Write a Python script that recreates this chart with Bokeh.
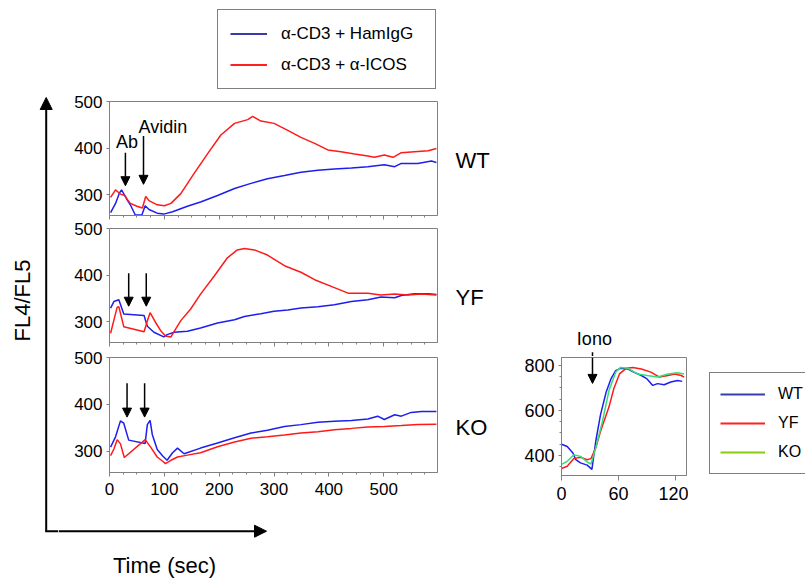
import numpy as np
from bokeh.plotting import figure
from bokeh.models import (Range1d, FixedTicker, Arrow, NormalHead, Label, Legend,
                          LegendItem, Spacer)
from bokeh.layouts import column, row
from bokeh.embed import file_html
from bokeh.resources import INLINE
from bokeh.core.properties import value

# ---------------- data ----------------
wt_red_t = [2, 11, 16, 20, 28, 32, 38, 50, 60, 66, 72, 87, 100, 112, 130, 154, 179, 203, 228, 252, 261, 276, 300, 325, 349, 374, 398, 422, 447, 471, 483, 501, 517, 532, 556, 581, 596]
wt_red_v = [294, 310, 305, 301, 298, 290, 281, 275, 271, 296, 287, 278, 276, 281, 302, 345, 388, 428, 453, 461, 468, 458, 453, 438, 423, 410, 396, 392, 387, 383, 380, 385, 380, 390, 392, 394, 399]
wt_blue_t = [2, 11, 18, 22, 31, 38, 47, 59, 65, 72, 87, 99, 115, 142, 166, 197, 228, 258, 288, 319, 349, 380, 410, 441, 471, 501, 520, 532, 562, 587, 596]
wt_blue_v = [261, 281, 303, 310, 291, 278, 256, 256, 276, 268, 260, 258, 263, 275, 284, 298, 313, 324, 334, 341, 348, 352, 355, 357, 360, 364, 360, 367, 367, 372, 369]

yf_red_t = [2, 8, 14, 17, 26, 63, 70, 74, 84, 93, 102, 112, 121, 130, 148, 166, 191, 215, 233, 246, 264, 288, 319, 349, 374, 410, 435, 471, 495, 520, 544, 569, 596]
yf_red_v = [275, 303, 331, 332, 289, 278, 305, 319, 298, 281, 269, 267, 285, 302, 327, 359, 398, 437, 454, 457, 454, 443, 420, 406, 390, 373, 361, 361, 357, 359, 357, 359, 357]
yf_blue_t = [2, 8, 17, 26, 63, 69, 81, 99, 105, 118, 142, 166, 197, 228, 246, 276, 300, 325, 349, 380, 410, 441, 471, 495, 520, 532, 556, 581, 596]
yf_blue_v = [329, 343, 347, 316, 313, 290, 277, 267, 272, 277, 279, 286, 297, 304, 311, 317, 322, 325, 329, 332, 336, 343, 347, 353, 351, 356, 360, 360, 358]

ko_blue_t = [2, 11, 20, 26, 35, 65, 69, 74, 78, 87, 97, 105, 115, 124, 136, 166, 197, 228, 258, 288, 319, 349, 380, 410, 441, 471, 489, 501, 520, 532, 550, 569, 596]
ko_blue_v = [309, 331, 365, 360, 324, 317, 357, 366, 336, 304, 290, 281, 297, 307, 295, 307, 318, 329, 339, 345, 353, 357, 362, 364, 366, 369, 375, 368, 378, 375, 383, 385, 385]
ko_red_t = [2, 8, 14, 20, 27, 65, 75, 87, 97, 102, 112, 124, 142, 166, 197, 228, 258, 288, 319, 349, 380, 410, 441, 471, 501, 532, 562, 596]
ko_red_v = [291, 305, 325, 316, 287, 325, 309, 288, 279, 274, 281, 288, 292, 297, 310, 320, 328, 331, 335, 339, 342, 346, 349, 352, 353, 355, 357, 358]

iono_wt_t = [0, 6, 12, 15, 20, 27, 32, 36, 41, 47, 52, 57, 62, 70, 76, 84, 90, 96, 101, 108, 115, 122, 127]
iono_wt_v = [450, 440, 411, 381, 367, 357, 338, 462, 580, 682, 740, 777, 787, 784, 770, 755, 740, 711, 719, 714, 726, 733, 729]
iono_yf_t = [0, 6, 13, 20, 27, 31, 36, 41, 50, 55, 61, 68, 75, 84, 94, 103, 112, 119, 126, 129]
iono_yf_v = [342, 352, 386, 392, 381, 386, 433, 506, 616, 696, 762, 787, 791, 784, 770, 748, 755, 762, 755, 748]
iono_ko_t = [0, 6, 13, 20, 27, 31, 36, 43, 50, 57, 62, 70, 80, 90, 101, 112, 122, 129]
iono_ko_v = [360, 374, 403, 396, 371, 362, 433, 550, 689, 770, 791, 787, 762, 755, 748, 762, 767, 762]

time_ticks = [0, 100, 200, 300, 400, 500]
time_minor = list(range(0, 600, 25))
fl_ticks = [300, 400, 500]
iono_xticks = [0, 60, 120]
iono_yticks = [400, 600, 800]

panel_names = ["WT", "YF", "KO"]
series_names = ["α-CD3 + HamIgG", "α-CD3 + α-ICOS"]
iono_names = ["WT", "YF", "KO"]

# stimulus arrows: time, start value, end value
wt_arrow_t = [29, 62]
wt_arrow_y0 = [390, 426]
wt_arrow_y1 = [319, 322]
yf_arrow_t = [35, 67]
yf_arrow_y0 = [404, 404]
yf_arrow_y1 = [333, 333]
ko_arrow_t = [32, 64]
ko_arrow_y0 = [445, 445]
ko_arrow_y1 = [373, 373]
iono_arrow_t = 32.6
iono_arrow_y1 = 720

FONT = "Liberation Sans"
BLUE = "#1e1ef0"
RED = "#ff1a1a"
GREEN = "#33dd77"
GRAY = "#808080"


def style_axes(p, xlabels=True, fs="17px"):
    p.outline_line_color = GRAY
    p.outline_line_width = 1
    p.xgrid.grid_line_color = None
    p.ygrid.grid_line_color = None
    for ax in p.axis:
        ax.axis_line_color = GRAY
        ax.major_tick_line_color = GRAY
        ax.minor_tick_line_color = GRAY
        ax.major_tick_in = 0
        ax.minor_tick_in = 0
        ax.major_label_text_font = FONT
        ax.major_label_text_font_size = fs
        ax.major_label_text_color = "black"
    p.yaxis.major_tick_out = 3
    p.yaxis.minor_tick_out = 2
    p.yaxis.major_label_standoff = 4
    p.xaxis.major_tick_out = 4
    p.xaxis.minor_tick_out = 2
    if xlabels:
        p.xaxis.major_label_standoff = 6
    else:
        p.xaxis.major_label_text_font_size = "0px"
        p.xaxis.major_label_text_color = None
        p.xaxis.major_label_standoff = 0


def make_panel(height, top, bottom, xlabels, red_t, red_v, blue_t, blue_v, at, ay0, ay1):
    p = figure(width=381, height=height, x_range=Range1d(0, 598), y_range=Range1d(255, 500),
               output_backend="svg", toolbar_location=None, title=None,
               min_border_left=51, min_border_right=2, min_border_top=top,
               min_border_bottom=bottom)
    p.xaxis.ticker = FixedTicker(ticks=time_ticks, minor_ticks=time_minor)
    p.yaxis.ticker = FixedTicker(ticks=fl_ticks, minor_ticks=[])
    style_axes(p, xlabels)
    p.line(blue_t, blue_v, line_color=BLUE, line_width=1.5)
    p.line(red_t, red_v, line_color=RED, line_width=1.5)
    for t, y0, y1 in zip(at, ay0, ay1):
        p.add_layout(Arrow(end=NormalHead(size=9, fill_color="black", line_color="black"),
                           x_start=t, y_start=y0, x_end=t, y_end=y1,
                           line_color="black", line_width=1.5))
    return p


p1 = make_panel(128, 8, 6, False, wt_red_t, wt_red_v, wt_blue_t, wt_blue_v,
                wt_arrow_t, wt_arrow_y0, wt_arrow_y1)
p1.add_layout(Label(x=32, y=412, text="Ab", text_font=FONT, text_font_size="18px",
                    text_align="center", text_baseline="middle", text_color="black"))
p1.add_layout(Label(x=53, y=446, text="Avidin", text_font=FONT, text_font_size="18px",
                    text_align="left", text_baseline="middle", text_color="black"))
p2 = make_panel(128, 7, 7, False, yf_red_t, yf_red_v, yf_blue_t, yf_blue_v,
                yf_arrow_t, yf_arrow_y0, yf_arrow_y1)
p3 = make_panel(155, 8, 32, True, ko_red_t, ko_red_v, ko_blue_t, ko_blue_v,
                ko_arrow_t, ko_arrow_y0, ko_arrow_y1)


def pixel_fig(w, h):
    f = figure(width=w, height=h, x_range=Range1d(0, w), y_range=Range1d(h, 0),
               output_backend="svg", toolbar_location=None, title=None, min_border=0,
               x_axis_location=None, y_axis_location=None)
    f.outline_line_color = None
    f.xgrid.grid_line_color = None
    f.ygrid.grid_line_color = None
    return f


# genotype names to the right of the panels
namefig = pixel_fig(68, 411)
namefig.text(x=[16, 16, 16], y=[67, 203.7, 333.7], text=panel_names, text_align="left",
             text_baseline="middle", text_font=value(FONT), text_font_size="22px",
             text_color="black")

# left strip with vertical arrow
lf = pixel_fig(50, 486)
lf.add_layout(Arrow(end=NormalHead(size=12, fill_color="black", line_color="black"),
                    x_start=37.7, y_start=437.7, x_end=37.7, y_end=4,
                    line_color="black", line_width=2))
lf.segment(x0=[36.7], y0=[437.7], x1=[50], y1=[437.7], line_color="black", line_width=2)
lf.text(x=[14], y=[207], text=["FL4/FL5"], angle=np.pi / 2, text_align="center",
        text_baseline="middle", text_font=value(FONT), text_font_size="22px",
        text_color="black")

# bottom strip with horizontal arrow
bf = pixel_fig(449, 75)
bf.add_layout(Arrow(end=NormalHead(size=12, fill_color="black", line_color="black"),
                    x_start=0, y_start=26.7, x_end=208, y_end=26.7,
                    line_color="black", line_width=2))
bf.text(x=[106], y=[61], text=["Time (sec)"], text_align="center", text_baseline="middle",
        text_font=value(FONT), text_font_size="22px", text_color="black")

# small ionomycin panel
iono_xr = Range1d(0, 131.5)
sf = figure(width=181, height=149, x_range=iono_xr, y_range=Range1d(311, 835),
            output_backend="svg", toolbar_location=None, title=None,
            min_border_left=54, min_border_right=2, min_border_top=1,
            min_border_bottom=30)
sf.xaxis.ticker = FixedTicker(ticks=iono_xticks, minor_ticks=[])
sf.yaxis.ticker = FixedTicker(ticks=iono_yticks, minor_ticks=list(range(350, 850, 50)))
style_axes(sf, True, "18px")
sf.xaxis.major_tick_out = 5
sf.line(iono_wt_t, iono_wt_v, line_color=BLUE, line_width=1.5)
sf.line(iono_yf_t, iono_yf_v, line_color=RED, line_width=1.5)
sf.line(iono_ko_t, iono_ko_v, line_color=GREEN, line_width=1.5)
sf.add_layout(Arrow(end=NormalHead(size=9, fill_color="black", line_color="black"),
                    x_start=iono_arrow_t, y_start=835, x_end=iono_arrow_t, y_end=iono_arrow_y1,
                    line_color="black", line_width=1.5))

# "Iono" label strip above the small panel (shares its time axis range)
ionofig = figure(width=181, height=39, x_range=iono_xr, y_range=Range1d(39, 0),
                 output_backend="svg", toolbar_location=None, title=None,
                 min_border_left=54, min_border_right=2, min_border_top=0,
                 min_border_bottom=0, x_axis_location=None, y_axis_location=None)
ionofig.outline_line_color = None
ionofig.xgrid.grid_line_color = None
ionofig.ygrid.grid_line_color = None
ionofig.segment(x0=[iono_arrow_t], y0=[34.7], x1=[iono_arrow_t], y1=[39],
                line_color="black", line_width=1.5)
ionofig.text(x=[iono_arrow_t + 2], y=[21], text=["Iono"], text_align="center",
             text_baseline="middle", text_font=value(FONT), text_font_size="18px",
             text_color="black")

# right legend
lgf = figure(width=117, height=188, x_range=Range1d(0, 1), y_range=Range1d(0, 1),
             output_backend="svg", toolbar_location=None, title=None,
             min_border_left=20, min_border_top=54, min_border_right=0, min_border_bottom=0,
             x_axis_location=None, y_axis_location=None)
lgf.outline_line_color = None
lgf.xgrid.grid_line_color = None
lgf.ygrid.grid_line_color = None
leg_colors = ["#3b3bb0", "#ff2020", "#88cc11"]
leg_items = []
for nm, c in zip(iono_names, leg_colors):
    r = lgf.line(x=[-5, -4], y=[-5, -5], line_color=c, line_width=2)
    leg_items.append(LegendItem(label=nm, renderers=[r]))
lgf.add_layout(Legend(items=leg_items, location="top_left", margin=1, padding=10,
                      spacing=7, glyph_width=45, glyph_height=22, label_height=22,
                      label_width=60, label_standoff=13, label_text_font=FONT,
                      label_text_font_size="16px", label_text_color="black",
                      border_line_color="black", border_line_width=1.5,
                      background_fill_color="white", background_fill_alpha=1))

# top legend
tlf = figure(width=230, height=85, x_range=Range1d(0, 1), y_range=Range1d(0, 1),
             output_backend="svg", toolbar_location=None, title=None, min_border=0,
             x_axis_location=None, y_axis_location=None)
tlf.outline_line_color = None
tlf.xgrid.grid_line_color = None
tlf.ygrid.grid_line_color = None
top_items = []
for nm, c in zip(series_names, ["#3a3aa8", "#ff2020"]):
    r = tlf.line(x=[-5, -4], y=[-5, -5], line_color=c, line_width=2)
    top_items.append(LegendItem(label=nm, renderers=[r]))
tlf.add_layout(Legend(items=top_items, location="top_left", margin=1, padding=12,
                      spacing=8, glyph_width=37, glyph_height=23, label_height=23,
                      label_width=142, label_standoff=14, label_text_font=FONT,
                      label_text_font_size="17px", label_text_color="black",
                      border_line_color="black", border_line_width=1.5,
                      background_fill_color="white", background_fill_alpha=1))

center = column(row(column(p1, p2, p3), namefig), bf)
right = column(Spacer(width=298, height=224), row(column(ionofig, sf), lgf))
main = row(lf, center, right)
top = row(Spacer(width=208, height=85), tlf)
inner = column(top, main)
layout = column(Spacer(width=10, height=8), row(Spacer(width=8, height=10), inner))

open("out.html", "w").write(file_html(layout, INLINE))
